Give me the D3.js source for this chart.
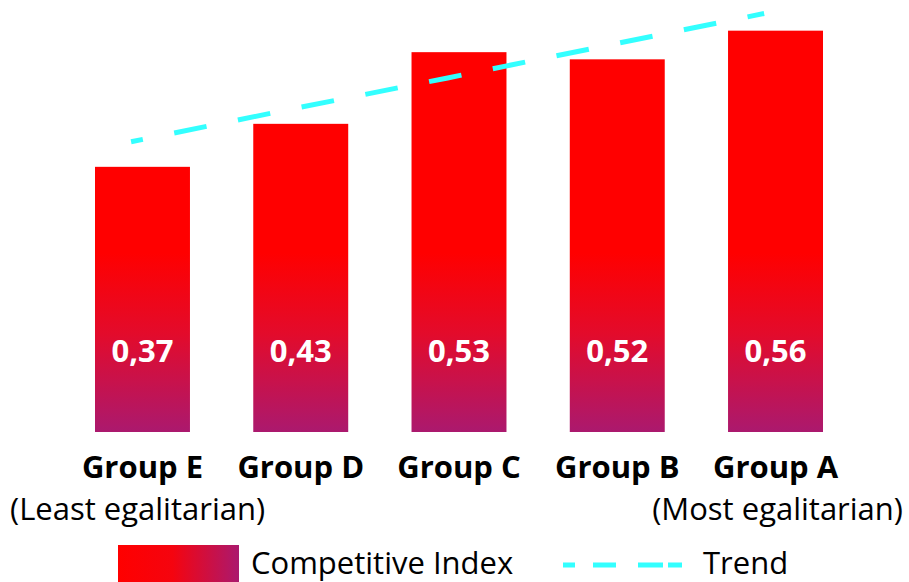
<!DOCTYPE html>
<html>
<head>
<meta charset="utf-8">
<script src="https://cdn.jsdelivr.net/npm/d3@7"></script>
<style>
  html, body { margin: 0; padding: 0; background: #fff; }
  svg { display: block; font-family: "Open Sans", sans-serif; }
</style>
</head>
<body>
<svg id="chart" width="909" height="582"></svg>
<script>
// Competitive index by group, least to most egalitarian
const categories = ["Group E", "Group D", "Group C", "Group B", "Group A"];
const indexValues = [0.37, 0.43, 0.53, 0.52, 0.56];
const valueLabels = ["0,37", "0,43", "0,53", "0,52", "0,56"];
const trendValues = [0.405, 0.450, 0.494, 0.539, 0.584];
const endNotes = ["(Least egalitarian)", "(Most egalitarian)"];
const legendLabels = ["Competitive Index", "Trend"];

const svg = d3.select("#chart");
const baseY = 432;
const fontSize = 31;

const x = d3.scaleBand()
  .domain(categories)
  .range([31.7, 886.3])
  .paddingInner(0.4)
  .paddingOuter(0.4);

const y = d3.scaleLinear()
  .domain([0, 0.6])
  .range([baseY, 2]);

const defs = svg.append("defs");

// vertical fill shared by all bars (same colour at the same height)
const barGrad = defs.append("linearGradient")
  .attr("id", "barGrad")
  .attr("gradientUnits", "userSpaceOnUse")
  .attr("x1", 0).attr("x2", 0)
  .attr("y1", y(0.25)).attr("y2", baseY);
barGrad.append("stop").attr("offset", "0%").attr("stop-color", "#ff0000");
barGrad.append("stop").attr("offset", "45%").attr("stop-color", "#e30b2b");
barGrad.append("stop").attr("offset", "100%").attr("stop-color", "#ab196e");

const legendGrad = defs.append("linearGradient")
  .attr("id", "legendGrad")
  .attr("x1", "0%").attr("x2", "100%")
  .attr("y1", "0%").attr("y2", "0%");
legendGrad.append("stop").attr("offset", "0%").attr("stop-color", "#ff0000");
legendGrad.append("stop").attr("offset", "45%").attr("stop-color", "#f5040f");
legendGrad.append("stop").attr("offset", "100%").attr("stop-color", "#ab196e");

// bars
svg.append("g").selectAll("rect")
  .data(categories)
  .join("rect")
  .attr("x", d => x(d))
  .attr("width", x.bandwidth())
  .attr("y", (d, i) => y(indexValues[i]))
  .attr("height", (d, i) => baseY - y(indexValues[i]))
  .attr("fill", "url(#barGrad)");

// value labels inside bars
svg.append("g").selectAll("text")
  .data(categories)
  .join("text")
  .attr("x", d => x(d) + x.bandwidth() / 2)
  .attr("y", 362)
  .attr("text-anchor", "middle")
  .attr("font-size", fontSize)
  .attr("font-weight", 700)
  .attr("fill", "#fff")
  .text((d, i) => valueLabels[i]);

// trend line
const trendX = d => x(d) + x.bandwidth() * 0.38;
const trendLine = d3.line()
  .x(d => trendX(d))
  .y((d, i) => y(trendValues[i]));
svg.append("path")
  .datum(categories)
  .attr("d", trendLine)
  .attr("fill", "none")
  .attr("stroke", "#33ffff")
  .attr("stroke-width", 5)
  .attr("stroke-dasharray", "33 32")
  .attr("stroke-dashoffset", 21);

// category axis
const xAxis = svg.append("g")
  .attr("transform", `translate(0,${baseY})`)
  .call(d3.axisBottom(x).tickSize(0).tickPadding(0));
xAxis.select(".domain").remove();
xAxis.selectAll("text")
  .attr("dy", null)
  .attr("y", 46)
  .attr("font-family", "Open Sans, sans-serif")
  .attr("font-size", fontSize)
  .attr("font-weight", 700)
  .attr("fill", "#000");

// end notes
svg.append("text")
  .attr("x", 10).attr("y", 520)
  .attr("font-size", fontSize)
  .attr("fill", "#000")
  .text(endNotes[0]);
svg.append("text")
  .attr("x", 903).attr("y", 520)
  .attr("text-anchor", "end")
  .attr("font-size", fontSize)
  .attr("fill", "#000")
  .text(endNotes[1]);

// legend
const legend = svg.append("g");
legend.append("rect")
  .attr("x", 118).attr("y", 545)
  .attr("width", 121).attr("height", 37)
  .attr("fill", "url(#legendGrad)");
legend.append("text")
  .attr("x", 251).attr("y", 574)
  .attr("font-size", fontSize)
  .attr("fill", "#000")
  .text(legendLabels[0]);
legend.append("line")
  .attr("x1", 563).attr("x2", 682)
  .attr("y1", 565).attr("y2", 565)
  .attr("stroke", "#33ffff")
  .attr("stroke-width", 5)
  .attr("stroke-dasharray", "12 18 23 22 25 5 14 0");
legend.append("text")
  .attr("x", 703).attr("y", 574)
  .attr("font-size", fontSize)
  .attr("fill", "#000")
  .text(legendLabels[1]);
</script>
</body>
</html>
